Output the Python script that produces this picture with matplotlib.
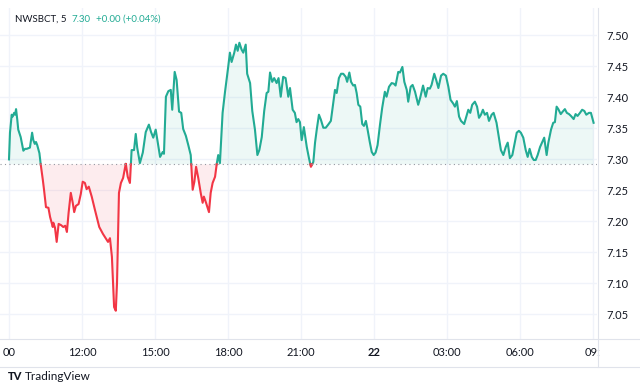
import numpy as np
import matplotlib
matplotlib.use("Agg")
import matplotlib.pyplot as plt
from matplotlib.lines import Line2D

plt.rcParams["font.family"] = ["Lato", "DejaVu Sans"]

# hours since 09:00 (5-minute chart), price
hours = [0.00, 0.04, 0.11, 0.15, 0.21, 0.25, 0.29, 0.34, 0.38, 0.48, 0.59, 0.66, 0.73, 0.86, 0.95,
         1.00, 1.06, 1.11, 1.16, 1.25, 1.30, 1.39, 1.44, 1.52, 1.62, 1.69, 1.80, 1.82, 1.89, 1.96,
         2.04, 2.14, 2.23, 2.31, 2.38, 2.45, 2.54, 2.62, 2.68, 2.75, 2.86, 2.95, 3.03, 3.12, 3.19,
         3.28, 3.40, 3.53, 3.71, 3.86, 3.99, 4.07, 4.15, 4.23, 4.32, 4.39, 4.44, 4.52, 4.60, 4.69,
         4.80, 4.88, 4.97, 5.04, 5.14, 5.21, 5.27, 5.38, 5.50, 5.62, 5.75, 5.84, 5.93, 6.03, 6.10,
         6.21, 6.32, 6.37, 6.45, 6.55, 6.65, 6.71, 6.81, 6.89, 6.99, 7.08, 7.16, 7.27, 7.37, 7.47,
         7.55, 7.62, 7.69, 7.78, 7.88, 7.96, 8.01, 8.10, 8.22, 8.29, 8.37, 8.47, 8.54, 8.60, 8.67,
         8.78, 8.88, 9.01, 9.08, 9.15, 9.26, 9.33, 9.40, 9.47, 9.56, 9.63, 9.73, 9.79, 9.91, 10.00,
         10.11, 10.21, 10.29, 10.39, 10.49, 10.59, 10.66, 10.73, 10.82, 10.90, 11.00, 11.08, 11.17,
         11.27, 11.37, 11.48, 11.55, 11.66, 11.75, 11.82, 11.89, 11.96, 12.03, 12.12, 12.24, 12.33,
         12.41, 12.51, 12.58, 12.65, 12.74, 12.82, 12.92, 13.02, 13.12, 13.23, 13.33, 13.40, 13.47,
         13.56, 13.65, 13.74, 13.84, 13.90, 13.99, 14.06, 14.15, 14.22, 14.29, 14.36, 14.44, 14.52,
         14.59, 14.67, 14.74, 14.83, 14.91, 14.99, 15.07, 15.15, 15.25, 15.34, 15.45, 15.52, 15.62,
         15.73, 15.82, 15.89, 16.00, 16.07, 16.17, 16.25, 16.35, 16.41, 16.51, 16.59, 16.69, 16.82,
         16.90, 17.02, 17.13, 17.21, 17.30, 17.37, 17.48, 17.56, 17.65, 17.76, 17.85, 17.96, 18.06,
         18.15, 18.26, 18.33, 18.41, 18.50, 18.58, 18.71, 18.80, 18.88, 18.96, 19.04, 19.15, 19.24,
         19.32, 19.40, 19.48, 19.56, 19.65, 19.73, 19.84, 19.92, 20.04, 20.14, 20.22, 20.32, 20.42,
         20.50, 20.59, 20.69, 20.77, 20.87, 20.96, 21.04, 21.14, 21.24, 21.32, 21.40, 21.49, 21.57,
         21.65, 21.73, 21.83, 21.92, 22.00, 22.10, 22.17, 22.28, 22.37, 22.44, 22.51, 22.58, 22.68,
         22.76, 22.85, 22.93, 23.02, 23.10, 23.21, 23.29, 23.37, 23.47, 23.56, 23.65, 23.73, 23.84,
         23.92, 24.03]
price = [7.300, 7.343, 7.372, 7.369, 7.375, 7.372, 7.381, 7.364, 7.348, 7.336, 7.314, 7.317, 7.317, 7.319, 7.343,
         7.331, 7.325, 7.328, 7.323, 7.310, 7.293, 7.267, 7.251, 7.223, 7.222, 7.207, 7.191, 7.198, 7.190, 7.167,
         7.196, 7.194, 7.191, 7.193, 7.183, 7.214, 7.246, 7.230, 7.215, 7.225, 7.228, 7.244, 7.264, 7.262, 7.252,
         7.256, 7.240, 7.219, 7.191, 7.180, 7.172, 7.167, 7.173, 7.143, 7.062, 7.056, 7.101, 7.246, 7.262, 7.270,
         7.293, 7.272, 7.262, 7.315, 7.315, 7.341, 7.319, 7.294, 7.311, 7.344, 7.356, 7.344, 7.335, 7.348, 7.331,
         7.304, 7.312, 7.309, 7.401, 7.410, 7.412, 7.380, 7.441, 7.428, 7.377, 7.375, 7.349, 7.338, 7.323, 7.307,
         7.251, 7.264, 7.288, 7.270, 7.246, 7.230, 7.240, 7.230, 7.215, 7.246, 7.262, 7.272, 7.293, 7.307, 7.294,
         7.375, 7.409, 7.449, 7.472, 7.457, 7.472, 7.485, 7.475, 7.488, 7.477, 7.472, 7.485, 7.438, 7.423, 7.378,
         7.348, 7.307, 7.315, 7.336, 7.378, 7.407, 7.409, 7.440, 7.425, 7.431, 7.423, 7.431, 7.401,
         7.433, 7.431, 7.401, 7.415, 7.380, 7.375, 7.360, 7.365, 7.360, 7.331, 7.352, 7.320, 7.302,
         7.288, 7.296, 7.327, 7.348, 7.372, 7.364, 7.351, 7.351, 7.356, 7.362, 7.391, 7.412, 7.407,
         7.431, 7.438, 7.438, 7.433, 7.425, 7.440, 7.425, 7.419, 7.420, 7.407, 7.388, 7.385, 7.357,
         7.354, 7.362, 7.348, 7.328, 7.312, 7.307, 7.311, 7.323, 7.356, 7.383, 7.409, 7.401, 7.417,
         7.423, 7.422, 7.419, 7.441, 7.440, 7.449, 7.425, 7.412, 7.393, 7.417, 7.420, 7.409, 7.388,
         7.399, 7.419, 7.401, 7.415, 7.414, 7.420, 7.438, 7.428, 7.415, 7.435, 7.438, 7.435, 7.417,
         7.396, 7.390, 7.385, 7.394, 7.369, 7.362, 7.357, 7.369, 7.380, 7.375, 7.388, 7.393, 7.385,
         7.367, 7.372, 7.380, 7.372, 7.375, 7.362, 7.372, 7.375, 7.359, 7.335, 7.315, 7.307, 7.320,
         7.327, 7.302, 7.307, 7.323, 7.343, 7.346, 7.343, 7.335, 7.315, 7.304, 7.317, 7.304, 7.299,
         7.299, 7.307, 7.320, 7.328, 7.335, 7.307, 7.327, 7.348, 7.359, 7.360, 7.385, 7.381, 7.373,
         7.377, 7.381, 7.375, 7.373, 7.370, 7.365, 7.373, 7.370, 7.375, 7.380, 7.378, 7.372, 7.375,
         7.375, 7.359]
base_price = 7.292

tick_hours = [0, 3, 6, 9, 12, 15, 18, 21, 24]
tick_labels = ["00", "12:00", "15:00", "18:00", "21:00", "22", "03:00", "06:00", "09:"]
price_ticks = [7.05, 7.10, 7.15, 7.20, 7.25, 7.30, 7.35, 7.40, 7.45, 7.50]

GREEN = "#22ab94"
RED = "#f23645"
GRID = "#f0f3fa"
TEXT = "#131722"

t = np.array(hours)
p = np.array(price)

# add crossing points so both colours meet exactly on the baseline
tt, pp = [t[0]], [p[0]]
for i in range(1, len(t)):
    a, b = p[i - 1] - base_price, p[i] - base_price
    if a * b < 0:
        f = a / (a - b)
        tt.append(t[i - 1] + f * (t[i] - t[i - 1]))
        pp.append(base_price)
    tt.append(t[i])
    pp.append(p[i])
tt = np.array(tt)
pp = np.array(pp)

fig = plt.figure(figsize=(6.4, 3.91), dpi=100)
ax = fig.add_axes([0.0, 1 - 339 / 391, 597 / 640, (339 - 8) / 391])

ax.fill_between(tt, pp, base_price, where=pp >= base_price, color=GREEN, alpha=0.08, lw=0, interpolate=True)
ax.fill_between(tt, pp, base_price, where=pp <= base_price, color=RED, alpha=0.09, lw=0, interpolate=True)
ax.plot(tt, np.ma.masked_where(pp < base_price, pp), color=GREEN, lw=1.5, solid_joinstyle="round")
ax.plot(tt, np.ma.masked_where(pp > base_price, pp), color=RED, lw=1.5, solid_joinstyle="round")
ax.axhline(base_price, color="#9598a1", lw=0.8, ls=(0, (1, 3)))

ax.set_xlim(-0.37, 24.17)
ax.set_ylim(7.0105, 7.544)
ax.set_xticks(tick_hours)
ax.set_xticklabels(tick_labels)
ax.set_yticks(price_ticks)
ax.set_yticklabels([f"{v:.2f}" for v in price_ticks])
ax.yaxis.tick_right()
ax.tick_params(axis="both", length=0, labelsize=8, colors=TEXT)
ax.tick_params(axis="x", pad=6)
ax.tick_params(axis="y", pad=7)
ax.xaxis.get_ticklabels()[5].set_fontweight("bold")
ax.grid(True, color=GRID, lw=1)
ax.set_axisbelow(True)
for s in ax.spines.values():
    s.set_visible(False)

# pane borders
fig.add_artist(Line2D([0, 1], [1 - 339 / 391] * 2, color="#e0e3eb", lw=0.8))
fig.add_artist(Line2D([0, 1], [1 - 367 / 391] * 2, color="#e0e3eb", lw=0.8))
fig.add_artist(Line2D([598 / 640] * 2, [1 - 367 / 391, 1 - 8 / 391], color="#e0e3eb", lw=0.8))

fig.text(15 / 640, 1 - 19 / 391, "NWSBCT, 5", fontsize=7, color=TEXT, va="center")
fig.text(71 / 640, 1 - 19 / 391, "7.30", fontsize=7, color=GREEN, va="center")
fig.text(96 / 640, 1 - 19 / 391, "+0.00 (+0.04%)", fontsize=7, color=GREEN, va="center")
fig.text(8 / 640, 1 - 377 / 391, "TV", fontsize=8, color=TEXT, va="center", fontweight="black")
fig.text(25 / 640, 1 - 377 / 391, "TradingView", fontsize=8.5, color=TEXT, va="center")

fig.savefig("out.png", dpi=100, facecolor="white")
